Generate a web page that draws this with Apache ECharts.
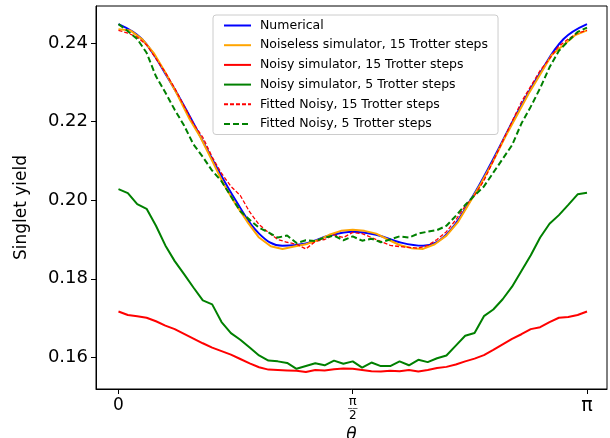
<!DOCTYPE html>
<html>
<head>
<meta charset="utf-8">
<script src="https://cdn.jsdelivr.net/npm/echarts@6/dist/echarts.min.js"></script>
<style>html,body{margin:0;padding:0;background:#fff}#c{width:610px;height:438px}</style>
</head>
<body>
<div id="c"></div>
<script>
// theta / pi grids
const thetaCoarse = Array.from({length: 21}, (_, i) => +(i * 0.05).toFixed(3));
const thetaMid = Array.from({length: 41}, (_, i) => +(i * 0.025).toFixed(3));
const thetaFine = Array.from({length: 51}, (_, i) => +(i * 0.02).toFixed(3));

const xTickValues = [0, 0.5, 1];
const xTickLabels = ['0', 'π/2', 'π'];
const yTickValues = [0.16, 0.18, 0.20, 0.22, 0.24];

const numerical = [0.2448, 0.2410, 0.2322, 0.2218, 0.2105, 0.2000, 0.1915, 0.1884, 0.1890, 0.1910, 0.1920,
  0.1912, 0.1893, 0.1884, 0.1913, 0.1998, 0.2105, 0.2220, 0.2324, 0.2410, 0.2448];

const noiseless15 = [0.2435, 0.2432, 0.2410, 0.2375, 0.2325, 0.2270, 0.2210, 0.2160, 0.2100, 0.2040,
  0.1990, 0.1945, 0.1905, 0.1883, 0.1876, 0.1882, 0.1888, 0.1898, 0.1912, 0.1922,
  0.1925, 0.1922, 0.1915, 0.1900, 0.1886, 0.1878, 0.1876, 0.1888, 0.1910, 0.1945,
  0.1995, 0.2045, 0.2100, 0.2160, 0.2215, 0.2270, 0.2320, 0.2370, 0.2395, 0.2420, 0.2432];

const noisy15 = [0.1717, 0.1708, 0.1705, 0.1701, 0.1692, 0.1681, 0.1672, 0.1660, 0.1648, 0.1636,
  0.1625, 0.1616, 0.1607, 0.1596, 0.1585, 0.1575, 0.1569, 0.1568, 0.1567, 0.1566,
  0.1563, 0.1568, 0.1567, 0.1570, 0.1572, 0.1571, 0.1568, 0.1565, 0.1564, 0.1566,
  0.1565, 0.1568, 0.1564, 0.1568, 0.1573, 0.1576, 0.1582, 0.1590, 0.1597, 0.1606,
  0.1619, 0.1633, 0.1647, 0.1659, 0.1672, 0.1677, 0.1690, 0.1701, 0.1703, 0.1708, 0.1717];

const noisy5 = [0.2028, 0.2018, 0.1990, 0.1978, 0.1935, 0.1885, 0.1845, 0.1812, 0.1778, 0.1745,
  0.1735, 0.1690, 0.1662, 0.1645, 0.1625, 0.1605, 0.1592, 0.1590, 0.1586, 0.1571,
  0.1578, 0.1585, 0.1580, 0.1592, 0.1584, 0.1590, 0.1574, 0.1587, 0.1578, 0.1578,
  0.1590, 0.1580, 0.1594, 0.1588, 0.1598, 0.1605, 0.1630, 0.1655, 0.1662, 0.1705,
  0.1722, 0.1748, 0.1780, 0.1820, 0.1860, 0.1905, 0.1940, 0.1962, 0.1988, 0.2015, 0.2019];

const fitted15 = [0.2432, 0.2425, 0.2415, 0.2395, 0.2360, 0.2325, 0.2285, 0.2240, 0.2195, 0.2160,
  0.2110, 0.2068, 0.2035, 0.2012, 0.1970, 0.1938, 0.1918, 0.1900, 0.1893, 0.1888,
  0.1876, 0.1895, 0.1900, 0.1912, 0.1905, 0.1918, 0.1915, 0.1905, 0.1895, 0.1885,
  0.1882, 0.1880, 0.1878, 0.1885, 0.1900, 0.1920, 0.1950, 0.1985, 0.2012, 0.2050,
  0.2100, 0.2150, 0.2200, 0.2250, 0.2290, 0.2330, 0.2360, 0.2392, 0.2410, 0.2425, 0.2432];

const fitted5 = [0.2448, 0.2430, 0.2410, 0.2375, 0.2315, 0.2274, 0.2230, 0.2190, 0.2142, 0.2110,
  0.2075, 0.2048, 0.2010, 0.1972, 0.1950, 0.1930, 0.1918, 0.1905, 0.1910, 0.1891,
  0.1898, 0.1896, 0.1905, 0.1910, 0.1898, 0.1908, 0.1897, 0.1902, 0.1893, 0.1900,
  0.1908, 0.1905, 0.1915, 0.1920, 0.1924, 0.1935, 0.1960, 0.1988, 0.2012, 0.2035,
  0.2070, 0.2105, 0.2140, 0.2195, 0.2238, 0.2285, 0.2338, 0.2380, 0.2405, 0.2428, 0.2439];

const zip = (xs, ys) => xs.map((x, i) => [x, ys[i]]);
const FONT = 'DejaVu Sans';

const chart = echarts.init(document.getElementById('c'), null, {renderer: 'canvas'});
chart.setOption({
  animation: false,
  backgroundColor: '#fff',
  textStyle: {fontFamily: FONT, color: '#000'},
  grid: {left: 96, right: 3, top: 6, bottom: 49, show: true, borderColor: '#000', borderWidth: 1,
    containLabel: false, outerBoundsMode: 'none'},
  legend: {
    orient: 'vertical', left: 213, top: 15,
    padding: [4, 10, 4, 10], itemGap: 6.7, itemWidth: 27, itemHeight: 12,
    borderColor: '#cccccc', borderWidth: 1, borderRadius: 3,
    backgroundColor: 'rgba(255,255,255,0.8)',
    itemStyle: {opacity: 0},
    textStyle: {fontFamily: FONT, fontSize: 12.5, color: '#000', padding: [0, 0, 0, 4]},
    data: ['Numerical', 'Noiseless simulator, 15 Trotter steps', 'Noisy simulator, 15 Trotter steps',
      'Noisy simulator, 5 Trotter steps', 'Fitted Noisy, 15 Trotter steps', 'Fitted Noisy, 5 Trotter steps']
  },
  xAxis: {
    type: 'value', min: -0.048, max: 1.0427,
    name: 'θ', nameLocation: 'middle', nameGap: 30,
    nameTextStyle: {fontFamily: FONT, fontSize: 17, fontStyle: 'italic', color: '#000'},
    axisLine: {show: true, onZero: false, lineStyle: {color: '#000', width: 1}},
    axisTick: {show: true, length: 5, inside: false, customValues: xTickValues, lineStyle: {color: '#000'}},
    splitLine: {show: false},
    axisLabel: {
      customValues: xTickValues, margin: 8, color: '#000', fontFamily: FONT, fontSize: 17,
      formatter: function (v) {
        const i = xTickValues.findIndex(t => Math.abs(t - v) < 1e-6);
        const s = i >= 0 ? xTickLabels[i] : '';
        if (s === 'π/2') return '{n|π}\n{l|——}\n{d|2}';
        if (s === 'π') return '{p|π}';
        return s;
      },
      rich: {
        n: {fontFamily: FONT, fontSize: 13, lineHeight: 10, color: '#000', align: 'center'},
        l: {fontFamily: FONT, fontSize: 5, fontWeight: 'bold', lineHeight: 4, color: '#000', align: 'center'},
        d: {fontFamily: FONT, fontSize: 12, lineHeight: 10, color: '#000', align: 'center'},
        p: {fontFamily: FONT, fontSize: 19, color: '#000'}
      }
    }
  },
  yAxis: {
    type: 'value', min: 0.15197, max: 0.2494,
    name: 'Singlet yield', nameLocation: 'middle', nameGap: 66, nameRotate: 90,
    nameTextStyle: {fontFamily: FONT, fontSize: 17, color: '#000', padding: [0, 20, 0, 0]},
    axisLine: {show: true, onZero: false, lineStyle: {color: '#000', width: 1}},
    axisTick: {show: true, length: 5, inside: false, customValues: yTickValues, lineStyle: {color: '#000'}},
    splitLine: {show: false},
    axisLabel: {
      customValues: yTickValues, margin: 8, color: '#000', fontFamily: FONT, fontSize: 18,
      formatter: v => v.toFixed(2)
    }
  },
  series: [
    {name: 'Numerical', type: 'line', data: zip(thetaCoarse, numerical), smooth: 0.4, symbol: 'none',
      lineStyle: {color: '#0000ff', width: 2}, itemStyle: {color: '#0000ff'}},
    {name: 'Noiseless simulator, 15 Trotter steps', type: 'line', data: zip(thetaMid, noiseless15), symbol: 'none',
      lineStyle: {color: '#ffa500', width: 2}, itemStyle: {color: '#ffa500'}},
    {name: 'Noisy simulator, 15 Trotter steps', type: 'line', data: zip(thetaFine, noisy15), symbol: 'none',
      lineStyle: {color: '#ff0000', width: 2}, itemStyle: {color: '#ff0000'}},
    {name: 'Noisy simulator, 5 Trotter steps', type: 'line', data: zip(thetaFine, noisy5), symbol: 'none',
      lineStyle: {color: '#008000', width: 2}, itemStyle: {color: '#008000'}},
    {name: 'Fitted Noisy, 15 Trotter steps', type: 'line', data: zip(thetaFine, fitted15), symbol: 'none',
      lineStyle: {color: '#ff0000', width: 1.3, type: [4, 2]}, itemStyle: {color: '#ff0000'}},
    {name: 'Fitted Noisy, 5 Trotter steps', type: 'line', data: zip(thetaFine, fitted5), symbol: 'none',
      lineStyle: {color: '#008000', width: 2, type: [6, 3]}, itemStyle: {color: '#008000'}}
  ]
});
</script>
</body>
</html>
